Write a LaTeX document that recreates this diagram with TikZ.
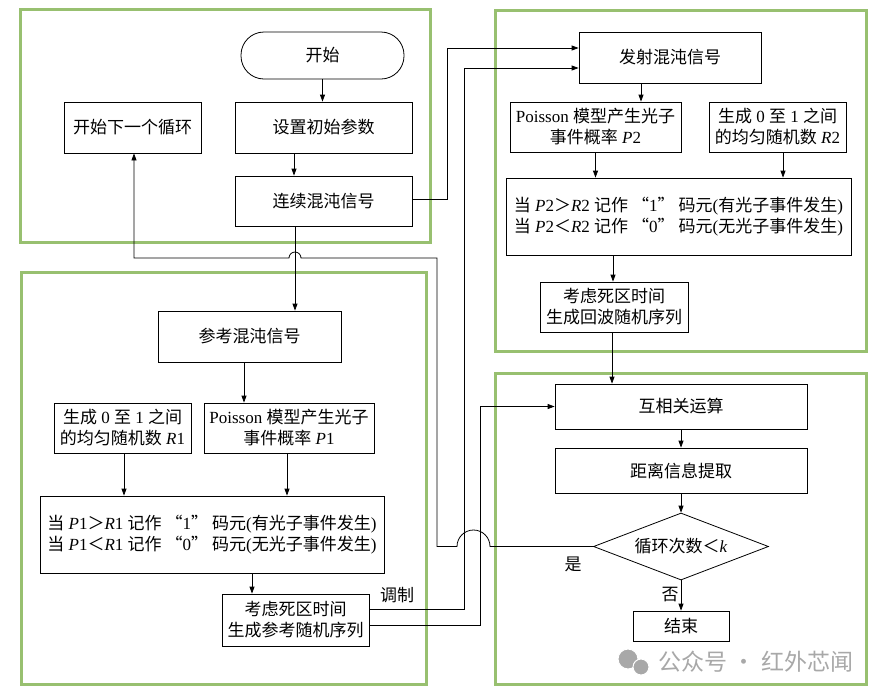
\documentclass[tikz,border=0pt]{standalone}
\usepackage{fontspec}
\setmainfont{Liberation Serif}
\newfontfamily\cjk{Noto Sans CJK SC}
\usetikzlibrary{arrows.meta,shapes.geometric}
\definecolor{pgreen}{RGB}{152,192,112}
\definecolor{wmgray}{RGB}{168,168,168}
\newcommand\zh[1]{{\cjk #1}}
\newcommand\fsz{\fontsize{17}{21}\selectfont}
\newcommand\qt[1]{\hspace{4pt}\zh{“}#1\zh{”}\hspace{4pt}}
\begin{document}
\begin{tikzpicture}[x=1pt,y=-1pt,
  box/.style={draw,line width=0.8pt,inner sep=0pt,align=center,font=\fsz},
  lbl/.style={inner sep=0pt,font=\fsz},
  panel/.style={draw=pgreen,line width=3pt},
  arr/.style={line width=0.8pt,-{Triangle[length=7pt,width=5pt]}}]
\fill[white] (0,0) rectangle (883,697);
\path[use as bounding box] (0,0) rectangle (883,697);

% panels
\draw[panel] (20,9) rectangle (430,242);
\draw[panel] (495,10) rectangle (866,351);
\draw[panel] (21,272) rectangle (426,684);
\draw[panel] (495,373) rectangle (866,684);

% top-left
\node[box,rounded corners=23pt,minimum width=163pt,minimum height=47pt] (start) at (322.5,55.5) {\zh{开始}};
\node[box,minimum width=177pt,minimum height=51pt] (init) at (323.5,127.5) {\zh{设置初始参数}};
\node[box,minimum width=177pt,minimum height=50pt] (cont) at (323.5,201) {\zh{连续混沌信号}};
\node[box,minimum width=137pt,minimum height=51pt] (next) at (132.5,127.5) {\zh{开始下一个循环}};

% top-right
\node[box,minimum width=182pt,minimum height=51pt] (emit) at (670,57.5) {\zh{发射混沌信号}};
\node[box,minimum width=171pt,minimum height=50pt] (p2) at (595.5,127) {Poisson \zh{模型产生光子}\\\zh{事件概率} \textit{P}2};
\node[box,minimum width=137pt,minimum height=50pt] (r2) at (777.5,127) {\zh{生成} 0 \zh{至} 1 \zh{之间}\\\zh{的均匀随机数} \textit{R}2};
\node[box,minimum width=345pt,minimum height=77pt] (cmp2) at (678.5,216.5) {\zh{当} \textit{P}2\zh{＞}\textit{R}2 \zh{记作}\qt{1}\zh{码元}(\zh{有光子事件发生})\\\zh{当} \textit{P}2\zh{＜}\textit{R}2 \zh{记作}\qt{0}\zh{码元}(\zh{无光子事件发生})};
\node[box,minimum width=148pt,minimum height=50pt] (dead2) at (614,307) {\zh{考虑死区时间}\\\zh{生成回波随机序列}};

% bottom-right
\node[box,minimum width=252pt,minimum height=45pt] (xcorr) at (681,406.5) {\zh{互相关运算}};
\node[box,minimum width=252pt,minimum height=45pt] (dist) at (681,470.5) {\zh{距离信息提取}};
\node[box,diamond,aspect=2.6,minimum width=175pt,minimum height=67pt] (dec) at (681,546.5) {\zh{循环次数＜}\textit{k}};
\node[box,minimum width=96pt,minimum height=30pt] (end) at (681,626) {\zh{结束}};

% bottom-left
\node[box,minimum width=183pt,minimum height=51pt] (ref) at (249.5,336.5) {\zh{参考混沌信号}};
\node[box,minimum width=137pt,minimum height=50pt] (r1) at (122.5,428) {\zh{生成} 0 \zh{至} 1 \zh{之间}\\\zh{的均匀随机数} \textit{R}1};
\node[box,minimum width=170pt,minimum height=50pt] (p1) at (289,428) {Poisson \zh{模型产生光子}\\\zh{事件概率} \textit{P}1};
\node[box,minimum width=344pt,minimum height=77pt] (cmp1) at (212,534.5) {\zh{当} \textit{P}1\zh{＞}\textit{R}1 \zh{记作}\qt{1}\zh{码元}(\zh{有光子事件发生})\\\zh{当} \textit{P}1\zh{＜}\textit{R}1 \zh{记作}\qt{0}\zh{码元}(\zh{无光子事件发生})};
\node[box,minimum width=147pt,minimum height=52pt] (dead1) at (295.5,620) {\zh{考虑死区时间}\\\zh{生成参考随机序列}};

% labels
\node[lbl] (lyes) at (573,564) {\zh{是}};
\node[lbl] (lno) at (670,595) {\zh{否}};
\node[lbl] (lmod) at (397,595) {\zh{调制}};

% connectors
\draw[arr] (start.south) -- (start.south |- init.north);
\draw[arr] ([xshift=-29.5pt]init.south) -- ([xshift=-29.5pt]cont.north);
\draw[arr] ([yshift=2pt]cont.east) -| (447,48) -- ([yshift=9.5pt]emit.west);
\draw[arr] ([xshift=-28.5pt]cont.south) -- ([xshift=-28.5pt]cont.south |- ref.north);
\draw[arr] ([xshift=-29pt]emit.south) -- ([xshift=-29pt]emit.south |- p2.north);
\draw[arr] (p2.south) -- (p2.south |- cmp2.north);
\draw[arr] ([xshift=5.5pt]r2.south) -- ([xshift=5.5pt]r2.south |- cmp2.north);
\draw[arr] ([xshift=-1pt]dead2.north |- cmp2.south) -- ([xshift=-1pt]dead2.north);
\draw[arr] ([xshift=-2pt]dead2.south) -- ([xshift=-2pt]dead2.south |- xcorr.north);
\draw[arr] (xcorr.south) -- (dist.north);
\draw[arr] (dist.south) -- (dec.north);
\draw[arr] (dec.south) -- (end.north);
\draw[arr] (dec.west) -- (490,546.5) arc[start angle=0,end angle=180,radius=16.5pt]
  -- (437,546.5) -- (437,258) -- (301,258) arc[start angle=0,end angle=180,radius=6pt]
  -- (134,258) -- ([xshift=1.5pt]next.south);
\draw[arr] ([xshift=-5.5pt]ref.south) -- ([xshift=-5.5pt]ref.south |- p1.north);
\draw[arr] ([xshift=1.5pt]r1.south) -- ([xshift=1.5pt]r1.south |- cmp1.north);
\draw[arr] ([xshift=-2pt]p1.south) -- ([xshift=-2pt]p1.south |- cmp1.north);
\draw[arr] ([xshift=-43.5pt]dead1.north |- cmp1.south) -- ([xshift=-43.5pt]dead1.north);
\draw[arr] ([yshift=11pt]dead1.east) -| (464,68) -- ([yshift=-10.5pt]emit.west);
\draw[arr] ([yshift=-5pt]dead1.east) -| (480,406.5) -- (xcorr.west);

% watermark
\fill[wmgray,draw=white,line width=1pt] (628,659) circle[radius=10pt];
\fill[wmgray,draw=white,line width=1pt] (641,667) circle[radius=8pt];
\node[inner sep=0pt,text=wmgray,font=\fontsize{23}{26}\selectfont] (wm) at (756,662) {\zh{公众号 · 红外芯闻}};
\end{tikzpicture}
\end{document}
